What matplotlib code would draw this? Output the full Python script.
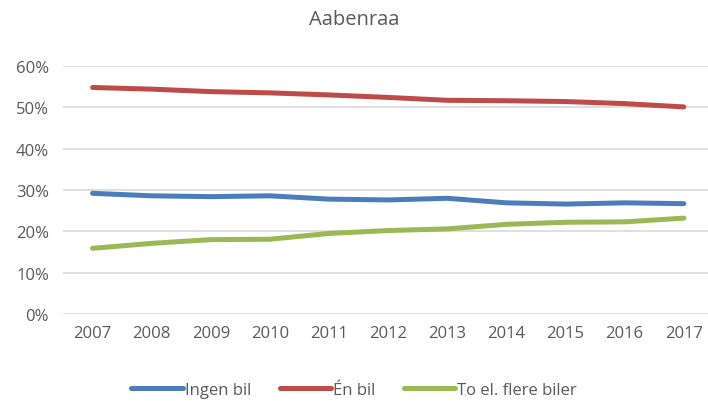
import matplotlib
matplotlib.use("Agg")
import matplotlib.pyplot as plt
from matplotlib.ticker import PercentFormatter

years = ["2007", "2008", "2009", "2010", "2011", "2012", "2013", "2014", "2015", "2016", "2017"]
ingen_bil = [29.2, 28.6, 28.4, 28.6, 27.8, 27.6, 28.0, 26.9, 26.6, 26.9, 26.7]
en_bil = [54.8, 54.4, 53.8, 53.5, 53.0, 52.4, 51.7, 51.6, 51.4, 50.9, 50.1]
to_flere = [15.9, 17.1, 18.0, 18.1, 19.5, 20.2, 20.6, 21.7, 22.2, 22.3, 23.2]

plt.rcParams["font.family"] = ["Open Sans", "DejaVu Sans"]
text_color = "#595959"

fig = plt.figure(figsize=(7.08, 4.06), dpi=100)
ax = fig.add_axes([0.089, 0.224, 0.911, 0.611])

x = range(len(years))
ax.plot(x, ingen_bil, color="#4a7ebb", lw=3.6, solid_capstyle="round", label="Ingen bil")
ax.plot(x, en_bil, color="#be4b48", lw=3.6, solid_capstyle="round", label="Én bil")
ax.plot(x, to_flere, color="#98b954", lw=3.6, solid_capstyle="round", label="To el. flere biler")

ax.set_ylim(0, 60)
ax.set_yticks(range(0, 61, 10))
ax.yaxis.set_major_formatter(PercentFormatter(decimals=0))
ax.set_xlim(-0.5, 10.41)
ax.set_xticks(list(x))
ax.set_xticklabels(years)
ax.grid(axis="y", color="#d9d9d9", lw=1.2)
ax.set_axisbelow(True)
for s in ax.spines.values():
    s.set_visible(False)
ax.tick_params(length=0, labelsize=12, colors=text_color, pad=8)
ax.tick_params(axis="y", pad=10)

fig.suptitle("Aabenraa", x=0.5, y=0.975, fontsize=14.5, color=text_color)

leg = fig.legend(loc="center", bbox_to_anchor=(0.5, 0.038), ncol=3, frameon=False,
                 fontsize=12, handlelength=3.1, handletextpad=0.1, columnspacing=1.7)
for t in leg.get_texts():
    t.set_color(text_color)

fig.savefig("out.png", dpi=100)
